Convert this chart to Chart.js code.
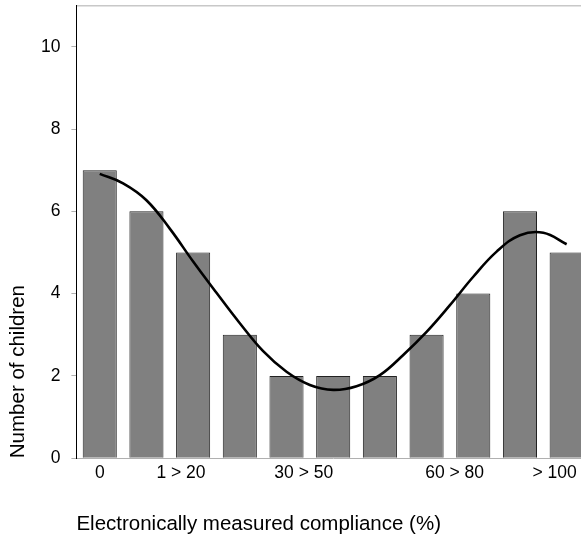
<!DOCTYPE html>
<html lang="en">
<head>
    <meta charset="UTF-8">
    <title>Electronically measured compliance</title>
    <script src="https://cdn.jsdelivr.net/npm/chart.js"></script>
    <style>
        html, body {
            margin: 0;
            padding: 0;
            background: #fff;
            overflow: hidden;
        }
        #complianceChart {
            display: block;
        }
    </style>
</head>
<body>
    <canvas id="complianceChart" width="590" height="539"></canvas>

    <script>
        // data
        const categories = ['c1', 'c2', 'c3', 'c4', 'c5', 'c6', 'c7', 'c8', 'c9', 'c10', 'c11'];
        const childCounts = [7, 6, 5, 3, 2, 2, 2, 3, 4, 6, 5];
        // trend curve, read at every half category
        const trendX = [0, 0.5, 1, 1.5, 2, 2.5, 3, 3.5, 4, 4.5, 5, 5.5, 6, 6.5, 7, 7.5, 8, 8.5, 9, 9.5, 10];
        const trendY = [6.91, 6.68, 6.27, 5.58, 4.78, 4.02, 3.28, 2.6, 2.1, 1.78, 1.66, 1.75, 2.02, 2.51, 3.07, 3.72, 4.41, 5.02, 5.42, 5.48, 5.2];
        const tickLabels = ['0', '1 > 20', '30 > 50', '60 > 80', '> 100'];
        const tickPositions = [0, 1.74, 4.37, 7.6, 9.74];
        const yTicks = [0, 2, 4, 6, 8, 10];

        const family = "'Liberation Sans', Arial, sans-serif";
        const tickFont = { family: family, size: 17.5 };
        const titleFont = { family: family, size: 20.5 };

        const ctx = document.getElementById('complianceChart').getContext('2d');
        new Chart(ctx, {
            type: 'bar',
            data: {
                labels: categories,
                datasets: [
                    {
                        type: 'line',
                        xAxisID: 'xl',
                        yAxisID: 'y',
                        data: trendX.map((x, i) => ({ x: x, y: trendY[i] })),
                        borderColor: '#000',
                        borderWidth: 2.6,
                        pointRadius: 0,
                        tension: 0.4,
                        fill: false
                    },
                    {
                        xAxisID: 'x',
                        yAxisID: 'y',
                        data: childCounts,
                        backgroundColor: '#808080',
                        borderColor: '#222',
                        borderWidth: 1,
                        grouped: false,
                        categoryPercentage: 1,
                        barPercentage: 0.73
                    }
                ]
            },
            options: {
                responsive: false,
                animation: false,
                layout: { padding: { left: 2, top: 5.6, right: 0, bottom: 0 } },
                plugins: {
                    legend: { display: false },
                    tooltip: { enabled: false }
                },
                scales: {
                    x: { type: 'category', display: false },
                    xl: {
                        type: 'linear',
                        position: 'bottom',
                        offset: false,
                        min: -0.5,
                        max: 10.5,
                        afterBuildTicks: (scale) => {
                            scale.ticks = tickPositions.map(v => ({ value: v }));
                        },
                        afterFit: (scale) => {
                            scale.height = 80.8;
                            scale.paddingLeft = 0;
                            scale.paddingRight = 0;
                        },
                        grid: { display: false, drawTicks: false, tickLength: 0 },
                        border: { display: true, color: '#b0b0b0', width: 1 },
                        ticks: {
                            autoSkip: false,
                            maxRotation: 0,
                            padding: 4,
                            color: '#000',
                            font: tickFont,
                            callback: (value, index) => tickLabels[index]
                        },
                        title: {
                            display: true,
                            text: 'Electronically measured compliance (%)',
                            align: 'start',
                            padding: { top: 4, bottom: 2 },
                            color: '#000',
                            font: titleFont
                        }
                    },
                    xt: {
                        type: 'linear',
                        position: 'top',
                        offset: false,
                        min: 0,
                        max: 1,
                        afterFit: (scale) => { scale.height = 0; },
                        grid: { display: false, drawTicks: false },
                        ticks: { display: false },
                        border: { display: true, color: '#c8c8c8', width: 1.5 }
                    },
                    y: {
                        min: 0,
                        max: 11,
                        afterBuildTicks: (scale) => {
                            scale.ticks = yTicks.map(v => ({ value: v }));
                        },
                        afterFit: (scale) => {
                            scale.width = 74.4;
                            scale.paddingTop = 0;
                            scale.paddingBottom = 0;
                        },
                        grid: {
                            drawOnChartArea: false,
                            drawTicks: true,
                            tickLength: 5,
                            color: '#b0b0b0'
                        },
                        border: { display: true, color: '#000', width: 1 },
                        ticks: {
                            padding: 11,
                            color: '#000',
                            font: tickFont
                        },
                        title: {
                            display: true,
                            text: 'Number of children',
                            align: 'start',
                            color: '#000',
                            font: titleFont
                        }
                    }
                }
            }
        });
    </script>
</body>
</html>
